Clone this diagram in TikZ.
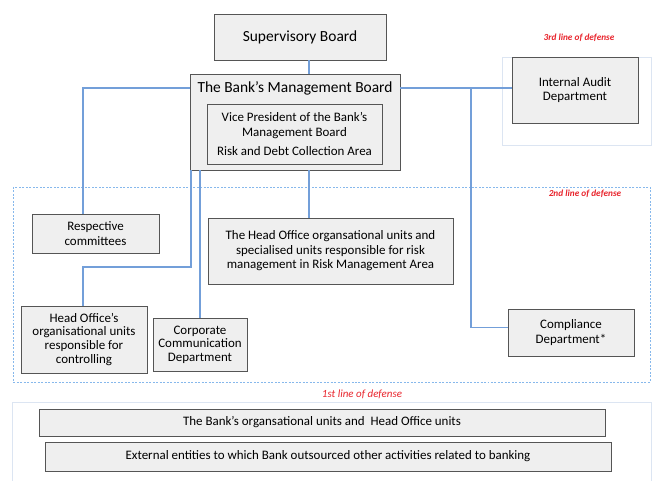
\documentclass[tikz,border=0pt]{standalone}
\usepackage{fontspec}
\setmainfont{Carlito}
\usetikzlibrary{shadows,positioning}
\definecolor{linkblue}{HTML}{739FD9}
\definecolor{boxfill}{HTML}{EFEFEF}
\definecolor{boxline}{HTML}{555555}
\definecolor{defred}{HTML}{E8232B}
\definecolor{dashblue}{HTML}{86B8EC}
\definecolor{paleblue}{HTML}{DCE5F2}
\tikzset{
  unit/.style={
    draw = boxline,
    fill = boxfill,
    line width = 0.8pt,
    align = center,
    inner sep = 2pt,
    font = \fontsize{13}{14.5}\selectfont,
    drop shadow = {shadow xshift=1.3pt, shadow yshift=-1.3pt, fill=black!55, opacity=0.6}
  },
}
\tikzset{
  link/.style={
    draw = linkblue,
    line width = 1.5pt
  },
  defense/.style={
    text = defred,
    font = \fontsize{9.3}{10}\selectfont\bfseries\itshape,
    inner sep = 1pt
  },
  lineframe/.style={
    draw = dashblue,
    line width = 1pt,
    dash pattern = on 2pt off 1.5pt
  },
  paleframe/.style={
    draw = paleblue,
    line width = 0.6pt
  }
}

\begin{document}
\begin{tikzpicture}[x=1bp,y=-1bp]
    \useasboundingbox (0,0) rectangle (652,481);

    % lines of defense
    \draw[paleframe] (502,57) rectangle (651,145);
    \draw[lineframe] (13,187) rectangle (650,382);
    \draw[paleframe] (12,402) rectangle (651,490);
    \node[defense] (third) at (579,38) {3rd line of defense};
    \node[defense] (second) at (585,194) {2nd line of defense};
    \node[defense, font=\fontsize{11}{12}\selectfont\itshape] (first) at (362,394) {1st line of defense};

    % boards
    \node[unit, minimum width=172bp, minimum height=46bp, font=\fontsize{15.5}{18}\selectfont] (sb) at (300,37) {Supervisory Board};
    \node[unit, minimum width=210bp, minimum height=96bp] (mb) at (295,122) {};
    \node[font=\fontsize{15.5}{18}\selectfont] (mbt) at (295,88) {The Bank's Management Board};
    \node[unit, minimum width=175bp, minimum height=60bp, font=\fontsize{13}{14.5}\selectfont] (vp) at (294.5,134)
        {Vice President of the Bank's\\Management Board\\[5pt]Risk and Debt Collection Area};
    \node[unit, minimum width=126bp, minimum height=66bp] (ia) at (575,90) {Internal Audit\\Department};

    % 2nd line
    \node[unit, minimum width=127bp, minimum height=39bp, font=\fontsize{13}{15}\selectfont] (rc) at (95.5,233.5) {Respective\\committees};
    \node[unit, minimum width=245bp, minimum height=66bp] (hor) at (330.5,251)
        {The Head Office organsational units and\\specialised units responsible for risk\\management in Risk Management Area};
    \node[unit, minimum width=126bp, minimum height=67bp, font=\fontsize{13}{14}\selectfont] (hoc) at (84,339.5)
        {Head Office's\\organisational units\\responsible for\\controlling};
    \node[unit, minimum width=94bp, minimum height=53bp, font=\fontsize{13}{13.5}\selectfont] (ccd) at (200,344.5)
        {Corporate\\Communication\\Department};
    \node[unit, minimum width=126bp, minimum height=47bp, font=\fontsize{13}{15}\selectfont] (cd) at (571,332.5) {Compliance\\Department*};

    % 1st line
    \node[unit, minimum width=566bp, minimum height=27bp] (bou) at (322,422.5) {The Bank's organsational units and \ Head Office units};
    \node[unit, minimum width=566bp, minimum height=29bp] (ext) at (328,456.5) {External entities to which Bank outsourced other activities related to banking};

    % connectors
    \coordinate (spine) at (309,0);
    \coordinate (lft) at (83,88);
    \coordinate (rgt) at (471,88);
    \coordinate (low) at (83,267);
    \coordinate (edge) at (191,0);
    \draw[link] (sb.south -| spine) -- (mb.north -| spine);
    \draw[link] (mb.south -| spine) -- (hor.north -| spine);
    \draw[link] (mb.west |- lft) -| (rc.north -| lft);
    \draw[link] (mb.east |- rgt) -- (ia.west |- rgt);
    \draw[link] (rgt) |- ([yshift=5pt]cd.west);
    \draw[link] (mb.south -| edge) |- (low) -- (hoc.north -| low);
    \draw[link] (mb.south -| ccd.north) -- (ccd.north);
\end{tikzpicture}
\end{document}
